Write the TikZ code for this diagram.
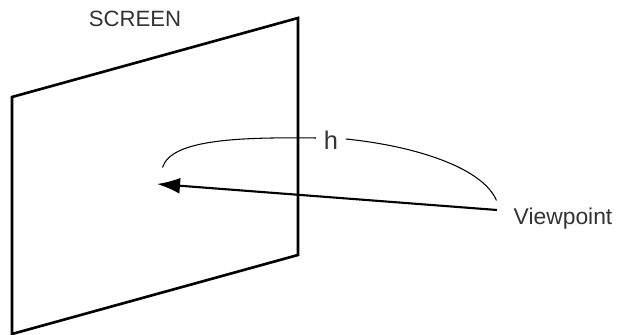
\documentclass[tikz,border=0pt]{standalone}
\usepackage{fontspec}
\setmainfont{Liberation Sans}
\usepackage{tikz}
\usetikzlibrary{arrows.meta,positioning}
\definecolor{GrisTexto}{HTML}{333333}
\begin{document}
\begin{tikzpicture}[
  >=Latex,
  every node/.style={font=\fontsize{12.6}{15}\selectfont,text=GrisTexto},
  panel/.style={line width=1.5pt,draw=black,line join=miter},
  sight/.style={-{Latex[length=4.6mm,width=3.2mm]},line width=1.2pt,draw=black},
  span/.style={line width=0.6pt,draw=black}
]
  \useasboundingbox (0,0) rectangle (12.34,6.70);

  % Pantalla en perspectiva.
  \draw[panel] (0.24,4.76) -- (5.96,6.34) -- (5.96,1.60) -- (0.24,0.02) -- cycle;
  \node (screen) at (2.70,6.33) {SCREEN};

  % Punto de vista y linea de mira.
  \node[anchor=west,font=\fontsize{13}{15}\selectfont] (viewpoint) at (10.15,2.32) {Viewpoint};
  \coordinate (tip) at (3.14,3.02);
  \coordinate (eye) at (9.94,2.50);
  \draw[sight] (eye) -- (tip);

  % Distancia h, dos arcos.
  \node[font=\fontsize{14.5}{15}\selectfont] (h) at (6.62,3.89) {h};
  \coordinate (hleft) at (3.25,3.35);
  \coordinate (hright) at (9.93,2.69);
  \draw[span] (h.west) ++(-0.03,0.05) .. controls (4.70,3.96) and (3.42,3.90) .. (hleft);
  \draw[span] (h.east) ++(0.03,0.03) .. controls (8.30,3.78) and (9.65,3.35) .. (hright);
\end{tikzpicture}
\end{document}
